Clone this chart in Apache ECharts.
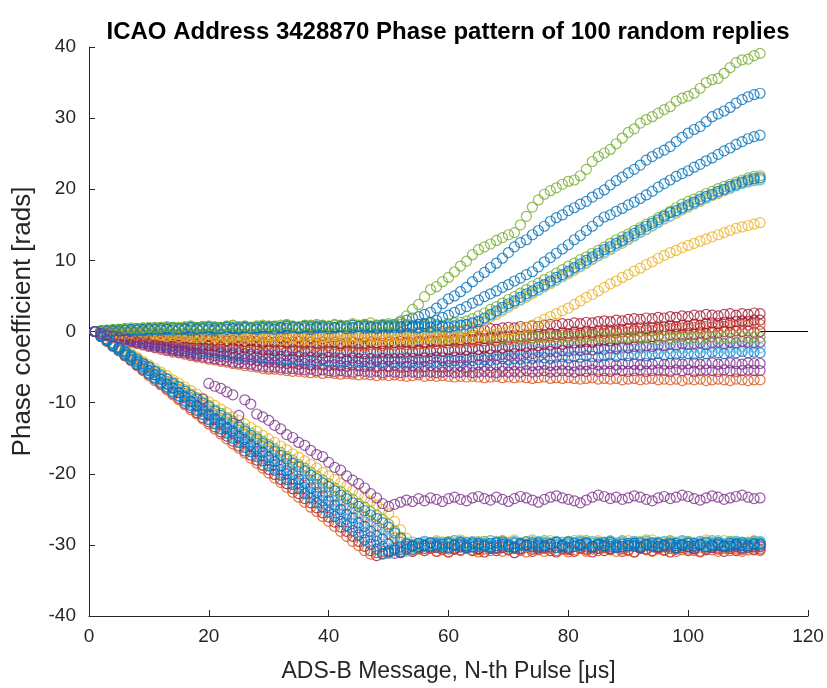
<!DOCTYPE html>
<html>
<head>
<meta charset="utf-8">
<script src="https://cdn.jsdelivr.net/npm/echarts@6/dist/echarts.min.js"></script>
<style>html,body{margin:0;padding:0;background:#fff}#c{width:827px;height:688px}</style>
</head>
<body>
<div id="c"></div>
<script>
// ---------- DATA (pulse index 1..112) ----------
const titleText = 'ICAO Address 3428870 Phase pattern of 100 random replies';
const xName = 'ADS-B Message, N-th Pulse [\u03BCs]';
const yName = 'Phase coefficient [rads]';
const xTicks = [0, 20, 40, 60, 80, 100, 120];
const yTicks = [-40, -30, -20, -10, 0, 10, 20, 30, 40];
const firstPulse = 1;
const zeroLineX = [112, 120];
const zeroLineY = [0, 0];

// near-zero group
const z8Orange = [0.0,-0.3,-0.6,-0.9,-1.1,-1.3,-1.5,-1.7,-1.9,-2.1,-2.3,-2.5,-2.7,-2.9,-3.0,-3.2,-3.4,-3.6,-3.7,-3.9,-4.0,-4.2,-4.3,-4.5,-4.6,-4.8,-4.9,-5.0,-5.2,-5.3,-5.3,-5.4,-5.5,-5.6,-5.6,-5.7,-5.8,-5.7,-5.9,-5.8,-5.9,-6.0,-5.9,-6.0,-6.1,-6.0,-6.1,-6.2,-6.1,-6.2,-6.1,-6.2,-6.3,-6.2,-6.1,-6.3,-6.2,-6.3,-6.2,-6.3,-6.4,-6.3,-6.4,-6.3,-6.4,-6.5,-6.4,-6.3,-6.5,-6.4,-6.5,-6.4,-6.5,-6.6,-6.5,-6.4,-6.6,-6.5,-6.6,-6.5,-6.6,-6.7,-6.6,-6.5,-6.7,-6.6,-6.7,-6.6,-6.8,-6.7,-6.6,-6.8,-6.7,-6.6,-6.8,-6.7,-6.8,-6.7,-6.9,-6.7,-6.8,-6.7,-6.9,-6.8,-6.7,-6.8,-6.9,-6.7,-6.8,-6.9,-6.8,-6.8];
const z7Purple = [0.0,-0.3,-0.6,-0.8,-1.0,-1.2,-1.4,-1.6,-1.8,-2.0,-2.2,-2.3,-2.5,-2.7,-2.9,-3.0,-3.2,-3.4,-3.5,-3.7,-3.8,-4.0,-4.1,-4.3,-4.4,-4.5,-4.6,-4.8,-4.9,-5.0,-5.0,-5.1,-5.2,-5.2,-5.3,-5.4,-5.3,-5.5,-5.4,-5.5,-5.6,-5.5,-5.6,-5.7,-5.5,-5.6,-5.7,-5.6,-5.8,-5.6,-5.7,-5.8,-5.6,-5.7,-5.8,-5.6,-5.7,-5.8,-5.7,-5.6,-5.8,-5.7,-5.6,-5.8,-5.7,-5.6,-5.7,-5.8,-5.6,-5.7,-5.6,-5.7,-5.5,-5.7,-5.6,-5.5,-5.7,-5.6,-5.5,-5.6,-5.7,-5.5,-5.6,-5.4,-5.6,-5.5,-5.6,-5.4,-5.5,-5.6,-5.5,-5.4,-5.6,-5.5,-5.4,-5.5,-5.6,-5.4,-5.5,-5.4,-5.6,-5.5,-5.4,-5.5,-5.6,-5.4,-5.5,-5.6,-5.5,-5.4,-5.5,-5.5];
const z6Purple = [0.0,-0.3,-0.5,-0.7,-0.9,-1.0,-1.2,-1.4,-1.6,-1.7,-1.9,-2.0,-2.2,-2.4,-2.5,-2.7,-2.8,-3.0,-3.1,-3.2,-3.4,-3.5,-3.6,-3.7,-3.9,-3.9,-4.0,-4.1,-4.2,-4.3,-4.3,-4.4,-4.5,-4.4,-4.6,-4.5,-4.7,-4.6,-4.7,-4.8,-4.7,-4.8,-4.9,-4.7,-4.8,-4.9,-4.8,-5.0,-4.8,-4.9,-4.8,-5.0,-4.9,-4.8,-5.0,-4.9,-4.8,-4.9,-5.0,-4.8,-4.9,-4.8,-5.0,-4.9,-4.7,-4.9,-4.8,-4.7,-4.9,-4.8,-4.7,-4.8,-4.6,-4.8,-4.7,-4.6,-4.8,-4.7,-4.6,-4.7,-4.8,-4.6,-4.7,-4.5,-4.7,-4.6,-4.5,-4.7,-4.6,-4.5,-4.6,-4.7,-4.5,-4.6,-4.4,-4.6,-4.5,-4.4,-4.6,-4.5,-4.4,-4.6,-4.5,-4.4,-4.6,-4.5,-4.4,-4.5,-4.6,-4.4,-4.5,-4.5];
const z5Blue = [0.0,-0.3,-0.4,-0.6,-0.8,-0.9,-1.1,-1.2,-1.4,-1.5,-1.7,-1.8,-2.0,-2.1,-2.2,-2.4,-2.5,-2.6,-2.8,-2.9,-3.0,-3.1,-3.2,-3.3,-3.4,-3.5,-3.5,-3.6,-3.7,-3.8,-3.8,-3.9,-4.0,-3.9,-4.1,-4.0,-4.2,-4.1,-4.0,-4.2,-4.1,-4.3,-4.2,-4.1,-4.3,-4.2,-4.4,-4.2,-4.3,-4.1,-4.3,-4.2,-4.4,-4.2,-4.3,-4.1,-4.2,-4.3,-4.1,-4.2,-4.1,-4.2,-4.0,-4.1,-3.9,-4.0,-4.1,-3.9,-3.8,-4.0,-3.8,-3.9,-3.7,-3.8,-3.6,-3.7,-3.8,-3.6,-3.5,-3.7,-3.5,-3.6,-3.4,-3.5,-3.6,-3.4,-3.3,-3.5,-3.3,-3.4,-3.2,-3.3,-3.4,-3.2,-3.1,-3.3,-3.1,-3.2,-3.0,-3.1,-3.2,-3.0,-3.1,-2.9,-3.0,-3.1,-2.9,-3.0,-2.8,-3.0,-2.9,-3.0];
const z10LightBlue = [0.0,-0.1,-0.3,-0.4,-0.5,-0.6,-0.7,-0.8,-0.9,-1.0,-1.1,-1.2,-1.2,-1.3,-1.4,-1.5,-1.5,-1.6,-1.7,-1.7,-1.8,-1.9,-1.9,-2.0,-2.0,-2.1,-2.1,-2.2,-2.1,-2.2,-2.3,-2.2,-2.3,-2.4,-2.3,-2.4,-2.3,-2.5,-2.4,-2.3,-2.5,-2.4,-2.6,-2.4,-2.5,-2.3,-2.5,-2.6,-2.4,-2.5,-2.6,-2.4,-2.5,-2.7,-2.5,-2.4,-2.6,-2.5,-2.7,-2.5,-2.4,-2.6,-2.5,-2.7,-2.6,-2.4,-2.5,-2.7,-2.6,-2.4,-2.6,-2.5,-2.4,-2.6,-2.5,-2.7,-2.5,-2.4,-2.6,-2.5,-2.3,-2.5,-2.4,-2.6,-2.5,-2.3,-2.4,-2.6,-2.4,-2.3,-2.5,-2.4,-2.2,-2.4,-2.5,-2.3,-2.4,-2.2,-2.4,-2.3,-2.2,-2.4,-2.3,-2.1,-2.3,-2.4,-2.2,-2.3,-2.1,-2.3,-2.2,-2.3];
const z4Purple = [0.0,-0.2,-0.4,-0.5,-0.7,-0.8,-1.0,-1.1,-1.2,-1.4,-1.5,-1.6,-1.8,-1.9,-2.0,-2.1,-2.3,-2.4,-2.4,-2.6,-2.7,-2.8,-2.8,-3.0,-3.0,-3.1,-3.2,-3.2,-3.3,-3.4,-3.4,-3.5,-3.4,-3.6,-3.5,-3.7,-3.6,-3.7,-3.8,-3.6,-3.7,-3.8,-3.9,-3.7,-3.8,-3.9,-3.8,-4.0,-3.8,-3.9,-3.8,-3.9,-3.7,-3.8,-3.9,-3.7,-3.8,-3.6,-3.7,-3.8,-3.6,-3.7,-3.5,-3.6,-3.4,-3.5,-3.3,-3.4,-3.2,-3.3,-3.1,-3.2,-3.0,-3.1,-2.9,-3.0,-2.8,-2.9,-2.7,-2.8,-2.6,-2.7,-2.5,-2.6,-2.4,-2.5,-2.3,-2.4,-2.2,-2.3,-2.1,-2.2,-2.0,-2.1,-1.9,-2.0,-1.8,-1.9,-1.7,-1.8,-1.7,-1.6,-1.8,-1.6,-1.5,-1.7,-1.5,-1.6,-1.4,-1.5,-1.6,-1.5];
const z3Red = [0.0,-0.2,-0.3,-0.4,-0.5,-0.6,-0.8,-0.8,-1.0,-1.0,-1.1,-1.2,-1.3,-1.5,-1.5,-1.6,-1.8,-1.8,-1.9,-2.0,-2.0,-2.2,-2.1,-2.3,-2.4,-2.3,-2.5,-2.4,-2.6,-2.6,-2.7,-2.6,-2.8,-2.7,-2.9,-2.8,-2.7,-2.9,-3.0,-2.8,-2.9,-3.0,-2.8,-3.0,-2.9,-3.1,-2.9,-3.0,-2.8,-3.0,-2.9,-3.0,-2.8,-2.9,-2.7,-2.9,-2.8,-2.7,-2.8,-2.6,-2.7,-2.5,-2.6,-2.4,-2.5,-2.3,-2.4,-2.2,-2.3,-2.1,-2.2,-2.0,-2.1,-1.9,-2.0,-1.8,-1.9,-1.7,-1.8,-1.6,-1.6,-1.5,-1.4,-1.5,-1.3,-1.2,-1.3,-1.1,-1.0,-1.1,-0.9,-0.8,-0.9,-0.7,-0.6,-0.7,-0.5,-0.4,-0.5,-0.3,-0.4,-0.2,-0.3,-0.1,-0.2,0.0,-0.1,0.1,0.0,0.1,-0.1,0.0];
const z2Orange = [0.0,-0.1,-0.2,-0.3,-0.4,-0.4,-0.5,-0.6,-0.6,-0.7,-0.8,-0.8,-0.9,-1.0,-1.0,-1.1,-1.2,-1.2,-1.3,-1.3,-1.4,-1.5,-1.4,-1.6,-1.5,-1.7,-1.6,-1.8,-1.7,-1.8,-1.9,-1.8,-1.7,-1.9,-2.0,-1.8,-1.9,-2.1,-1.9,-2.0,-1.8,-2.0,-1.9,-2.1,-1.9,-2.0,-1.8,-1.9,-2.0,-1.8,-1.9,-1.7,-1.8,-1.9,-1.7,-1.8,-1.6,-1.7,-1.5,-1.6,-1.4,-1.5,-1.3,-1.4,-1.2,-1.3,-1.1,-1.2,-1.0,-1.1,-0.9,-1.0,-0.8,-0.9,-0.7,-0.8,-0.6,-0.7,-0.5,-0.6,-0.4,-0.5,-0.3,-0.4,-0.2,-0.3,-0.1,-0.2,0.0,-0.1,0.1,0.0,0.2,0.1,0.3,0.2,0.4,0.3,0.5,0.4,0.6,0.5,0.7,0.6,0.8,0.7,0.9,0.8,1.0,0.9,1.1,1.0];
const z11Red = [0.0,-0.1,-0.2,-0.2,-0.3,-0.3,-0.4,-0.5,-0.5,-0.6,-0.6,-0.7,-0.7,-0.8,-0.9,-0.9,-1.0,-1.0,-1.1,-1.1,-1.2,-1.1,-1.3,-1.2,-1.3,-1.4,-1.3,-1.4,-1.5,-1.4,-1.5,-1.4,-1.6,-1.5,-1.4,-1.6,-1.5,-1.7,-1.5,-1.6,-1.5,-1.7,-1.6,-1.5,-1.7,-1.6,-1.5,-1.6,-1.7,-1.5,-1.6,-1.4,-1.5,-1.6,-1.4,-1.5,-1.3,-1.4,-1.2,-1.3,-1.1,-1.2,-1.0,-1.1,-0.9,-1.0,-0.8,-0.9,-0.7,-0.8,-0.6,-0.7,-0.5,-0.6,-0.4,-0.5,-0.3,-0.4,-0.2,-0.3,-0.1,-0.2,0.0,-0.1,0.1,0.0,0.2,0.1,0.3,0.4,0.3,0.5,0.4,0.6,0.5,0.7,0.8,0.7,0.9,0.8,1.0,0.9,1.1,1.2,1.1,1.3,1.2,1.4,1.5,1.4,1.6,1.6];
const z9Green = [0.0,0.0,-0.1,0.0,-0.1,-0.2,-0.1,-0.2,-0.1,-0.3,-0.2,-0.3,-0.2,-0.4,-0.3,-0.2,-0.4,-0.3,-0.5,-0.4,-0.3,-0.5,-0.4,-0.3,-0.5,-0.4,-0.6,-0.5,-0.4,-0.6,-0.5,-0.4,-0.6,-0.5,-0.7,-0.6,-0.5,-0.7,-0.6,-0.5,-0.7,-0.6,-0.5,-0.7,-0.6,-0.8,-0.6,-0.5,-0.7,-0.6,-0.5,-0.7,-0.6,-0.8,-0.7,-0.5,-0.7,-0.6,-0.8,-0.7,-0.6,-0.8,-0.7,-0.5,-0.7,-0.6,-0.8,-0.7,-0.9,-0.7,-0.6,-0.8,-0.7,-0.9,-0.8,-0.6,-0.8,-0.7,-0.9,-0.8,-0.7,-0.9,-0.8,-0.6,-0.8,-0.7,-0.9,-0.8,-1.0,-0.8,-0.7,-0.9,-0.8,-1.0,-0.8,-0.7,-0.9,-0.8,-0.7,-0.9,-0.8,-1.0,-0.8,-0.7,-0.9,-0.8,-1.0,-0.8,-0.7,-0.9,-0.8,-0.8];
const z1Red = [0.0,-0.1,0.0,-0.2,-0.1,-0.2,-0.3,-0.2,-0.4,-0.3,-0.4,-0.3,-0.5,-0.4,-0.6,-0.5,-0.4,-0.6,-0.5,-0.7,-0.6,-0.5,-0.7,-0.6,-0.8,-0.7,-0.6,-0.8,-0.7,-0.8,-0.7,-0.9,-0.8,-0.6,-0.8,-0.7,-0.9,-0.7,-0.6,-0.8,-0.7,-0.6,-0.8,-0.6,-0.5,-0.7,-0.6,-0.4,-0.6,-0.5,-0.4,-0.5,-0.3,-0.4,-0.2,-0.3,-0.1,-0.2,0.0,-0.1,0.1,0.0,0.2,0.1,0.3,0.2,0.4,0.3,0.5,0.6,0.5,0.7,0.6,0.8,0.7,0.9,1.0,0.9,1.1,1.0,1.2,1.1,1.3,1.2,1.4,1.5,1.4,1.6,1.5,1.7,1.8,1.7,1.9,1.8,2.0,1.9,2.1,2.0,2.2,2.1,2.3,2.2,2.4,2.3,2.2,2.4,2.5,2.3,2.5,2.4,2.6,2.5];

// rising group
const r5Yellow = [0.0,-0.1,-0.2,-0.2,-0.3,-0.4,-0.3,-0.5,-0.4,-0.6,-0.5,-0.6,-0.7,-0.6,-0.8,-0.7,-0.8,-0.9,-0.7,-0.9,-0.8,-1.0,-0.9,-0.8,-1.0,-1.1,-0.9,-1.0,-1.1,-0.9,-1.0,-1.2,-1.1,-1.0,-1.2,-1.1,-1.3,-1.1,-1.2,-1.0,-1.2,-1.3,-1.1,-1.2,-1.0,-1.2,-1.1,-1.3,-1.2,-1.1,-1.2,-1.0,-1.1,-1.2,-1.0,-1.1,-0.9,-1.0,-1.1,-0.9,-0.8,-0.9,-0.7,-0.8,-0.6,-0.5,-0.4,-0.3,-0.1,0.0,0.2,0.4,0.6,0.9,1.3,1.7,2.1,2.5,2.9,3.3,3.8,4.3,4.8,5.2,5.7,6.2,6.7,7.1,7.6,8.0,8.5,8.9,9.4,9.8,10.3,10.7,11.1,11.4,11.8,12.1,12.4,12.7,13.0,13.3,13.6,13.9,14.2,14.5,14.7,14.9,15.1,15.3];
const r4cYellow = [0.0,-0.1,0.0,-0.2,-0.1,-0.2,-0.3,-0.2,-0.3,-0.4,-0.3,-0.4,-0.5,-0.3,-0.4,-0.5,-0.4,-0.6,-0.5,-0.4,-0.6,-0.5,-0.7,-0.6,-0.5,-0.7,-0.6,-0.5,-0.7,-0.6,-0.7,-0.5,-0.6,-0.8,-0.6,-0.7,-0.5,-0.6,-0.8,-0.7,-0.6,-0.7,-0.8,-0.6,-0.7,-0.5,-0.6,-0.8,-0.7,-0.6,-0.5,-0.7,-0.6,-0.5,-0.4,-0.6,-0.5,-0.4,-0.3,-0.4,-0.2,0.0,0.3,0.6,1.0,1.5,2.0,2.4,2.9,3.4,3.9,4.4,4.8,5.3,5.8,6.3,6.7,7.2,7.7,8.1,8.6,9.1,9.6,10.1,10.6,11.0,11.5,12.0,12.4,12.9,13.4,13.9,14.3,14.8,15.3,15.8,16.2,16.6,17.1,17.5,17.9,18.3,18.7,19.1,19.4,19.8,20.1,20.5,20.8,21.1,21.3,21.4];
const r4bGreen = [0.0,0.1,0.2,0.2,0.3,0.4,0.3,0.4,0.5,0.4,0.5,0.6,0.5,0.4,0.6,0.5,0.7,0.6,0.5,0.7,0.6,0.5,0.7,0.8,0.6,0.7,0.5,0.8,0.7,0.6,0.8,0.7,0.9,0.7,0.6,0.8,0.9,0.7,0.8,0.6,0.9,0.8,0.7,0.9,0.8,1.0,0.8,0.9,0.7,0.9,0.8,1.0,0.9,0.8,1.0,0.9,1.1,1.0,0.9,1.1,1.2,1.3,1.5,1.8,2.2,2.6,3.1,3.5,4.0,4.5,4.9,5.4,5.9,6.4,6.8,7.3,7.7,8.2,8.7,9.2,9.6,10.1,10.5,11.0,11.4,11.9,12.4,12.9,13.3,13.7,14.2,14.6,15.1,15.5,16.0,16.4,16.9,17.4,17.9,18.3,18.6,19.0,19.4,19.7,20.1,20.4,20.7,21.0,21.3,21.6,21.8,21.9];
const r4dLightBlue = [0.0,0.1,0.0,0.1,0.2,0.1,0.2,0.3,0.2,0.3,0.2,0.4,0.3,0.2,0.4,0.3,0.5,0.4,0.3,0.5,0.4,0.3,0.5,0.4,0.6,0.4,0.5,0.3,0.5,0.6,0.4,0.6,0.5,0.4,0.6,0.5,0.7,0.5,0.4,0.6,0.5,0.7,0.6,0.4,0.6,0.7,0.5,0.6,0.8,0.6,0.5,0.7,0.6,0.8,0.6,0.5,0.7,0.6,0.8,0.7,0.6,0.8,0.9,1.1,1.5,1.8,2.2,2.7,3.1,3.6,4.1,4.5,5.0,5.5,5.9,6.4,6.9,7.3,7.8,8.3,8.8,9.2,9.7,10.2,10.7,11.2,11.6,12.1,12.6,13.0,13.5,14.0,14.4,14.9,15.4,15.9,16.3,16.8,17.2,17.6,18.0,18.4,18.8,19.2,19.5,19.9,20.2,20.5,20.8,21.0,21.2,21.3];
const r4aBlue = [0.0,0.0,0.1,0.0,0.1,0.2,0.1,0.2,0.1,0.2,0.3,0.2,0.3,0.2,0.3,0.4,0.2,0.3,0.4,0.3,0.2,0.4,0.3,0.4,0.3,0.5,0.4,0.3,0.5,0.4,0.3,0.5,0.4,0.6,0.4,0.5,0.3,0.5,0.6,0.4,0.5,0.6,0.4,0.5,0.7,0.5,0.6,0.4,0.6,0.5,0.6,0.5,0.7,0.6,0.5,0.7,0.6,0.8,0.7,0.6,0.8,0.9,1.0,1.2,1.4,1.9,2.4,2.9,3.4,3.9,4.3,4.8,5.3,5.7,6.2,6.6,7.1,7.6,8.0,8.5,9.0,9.5,10.0,10.5,11.0,11.5,11.9,12.4,12.8,13.3,13.8,14.3,14.8,15.2,15.7,16.2,16.7,17.0,17.4,17.8,18.2,18.6,19.0,19.3,19.7,20.0,20.4,20.7,21.0,21.3,21.5,21.6];
const r3Blue = [0.0,0.0,0.1,0.2,0.1,0.2,0.3,0.2,0.3,0.4,0.3,0.4,0.3,0.5,0.4,0.3,0.5,0.4,0.5,0.6,0.4,0.5,0.6,0.5,0.4,0.6,0.5,0.6,0.5,0.7,0.6,0.5,0.7,0.6,0.5,0.7,0.6,0.8,0.6,0.7,0.6,0.7,0.8,0.6,0.7,0.8,0.7,0.6,0.8,0.7,0.8,0.7,0.9,0.8,1.0,1.1,1.3,1.6,2.0,2.3,2.7,3.1,3.5,4.0,4.4,4.9,5.3,5.7,6.2,6.6,7.1,7.5,8.0,8.4,9.1,9.8,10.4,11.0,11.6,12.2,12.9,13.5,14.2,14.8,15.5,16.1,16.4,16.9,17.3,17.8,18.2,18.7,19.2,19.7,20.3,20.8,21.3,21.8,22.2,22.6,23.1,23.5,24.0,24.4,24.9,25.4,25.8,26.3,26.7,27.1,27.4,27.6];
const r2Blue = [0.0,0.1,0.1,0.2,0.3,0.2,0.3,0.4,0.3,0.4,0.5,0.4,0.5,0.6,0.4,0.5,0.6,0.5,0.7,0.6,0.5,0.6,0.7,0.5,0.6,0.7,0.6,0.5,0.7,0.6,0.7,0.6,0.8,0.7,0.6,0.8,0.7,0.6,0.8,0.7,0.6,0.8,0.7,0.9,0.7,0.8,0.6,0.8,0.9,0.8,1.0,1.3,1.6,1.9,2.1,2.4,2.7,3.3,3.9,4.6,5.0,5.6,6.2,7.0,7.7,8.3,9.0,9.6,10.3,11.1,11.9,12.5,12.9,13.6,14.2,14.8,15.5,16.0,16.4,17.0,17.4,17.9,18.3,18.9,19.4,19.9,20.6,21.2,21.7,22.3,22.8,23.4,24.1,24.6,25.1,25.5,26.0,26.7,27.3,27.9,28.4,28.8,29.5,30.2,30.6,31.0,31.5,32.1,32.6,33.0,33.3,33.5];
const r1Green = [0.0,0.1,0.2,0.3,0.3,0.4,0.5,0.4,0.5,0.6,0.5,0.6,0.7,0.6,0.5,0.7,0.8,0.6,0.7,0.8,0.7,0.6,0.8,0.9,0.7,0.8,0.6,0.7,0.9,0.8,0.7,0.9,1.0,0.8,0.7,0.9,0.8,1.0,0.9,0.8,1.0,0.9,0.8,1.1,0.9,1.0,1.2,0.9,1.0,1.1,1.0,1.5,2.2,3.1,3.8,4.9,5.9,6.3,7.0,7.6,8.4,9.2,9.9,10.8,11.5,11.9,12.3,12.8,13.2,13.6,13.9,15.0,16.2,17.5,18.5,19.3,19.8,20.2,20.7,21.1,21.3,21.9,22.8,23.9,24.6,25.1,25.6,26.4,27.2,28.0,28.5,29.3,29.8,30.2,30.7,31.2,31.6,32.4,32.8,33.1,33.5,34.2,35.0,35.4,35.6,36.3,37.1,37.8,38.2,38.3,38.8,39.1];

// descending group
const d3Red = [0.0,-0.7,-1.3,-2.0,-2.7,-3.4,-4.0,-4.7,-5.4,-6.0,-6.7,-7.4,-8.0,-8.7,-9.4,-10.1,-10.7,-11.4,-12.1,-12.7,-13.4,-14.1,-14.7,-15.4,-16.1,-16.8,-17.4,-18.1,-18.8,-19.4,-20.1,-20.8,-21.4,-22.1,-22.8,-23.5,-24.1,-24.8,-25.5,-26.1,-26.8,-27.5,-28.1,-28.8,-29.5,-30.2,-30.8,-31.5,-31.3,-31.0,-30.8,-31.1,-30.6,-30.9,-30.5,-30.8,-30.4,-30.9,-30.6,-31.0,-30.5,-30.7,-30.3,-30.8,-30.6,-31.0,-30.5,-30.8,-30.4,-30.7,-31.1,-30.6,-30.3,-30.9,-30.6,-30.4,-30.8,-31.0,-30.5,-30.7,-30.9,-30.4,-30.6,-31.0,-30.5,-30.8,-30.6,-30.3,-30.9,-30.7,-31.0,-30.5,-30.6,-30.8,-30.4,-30.7,-31.0,-30.6,-30.4,-30.8,-30.5,-30.9,-30.7,-30.3,-30.6,-30.9,-30.5,-30.8,-30.6,-30.4,-30.7,-30.6];
const d11Orange = [0.0,-0.7,-1.4,-2.1,-2.7,-3.4,-4.1,-4.8,-5.5,-6.2,-6.9,-7.5,-8.2,-8.9,-9.6,-10.3,-11.0,-11.6,-12.3,-13.0,-13.7,-14.4,-15.1,-15.8,-16.4,-17.1,-17.8,-18.5,-19.2,-19.9,-20.6,-21.2,-21.9,-22.6,-23.3,-24.0,-24.7,-25.3,-26.0,-26.7,-27.4,-28.1,-28.8,-29.5,-30.1,-30.8,-31.3,-31.1,-30.9,-31.2,-30.8,-31.0,-30.7,-30.9,-30.6,-30.8,-30.5,-30.9,-30.7,-31.0,-30.6,-30.8,-30.4,-30.7,-31.0,-30.6,-30.8,-30.5,-30.9,-30.7,-30.4,-30.8,-31.0,-30.6,-30.7,-30.9,-30.5,-30.8,-30.6,-31.0,-30.7,-30.5,-30.9,-30.6,-30.8,-30.4,-30.7,-30.9,-30.6,-30.8,-31.0,-30.5,-30.7,-30.9,-30.6,-30.8,-30.5,-30.9,-30.7,-30.6,-30.8,-31.0,-30.6,-30.7,-30.9,-30.5,-30.8,-30.6,-30.9,-30.7,-30.6,-30.8];
const d4Orange = [0.0,-0.6,-1.2,-1.7,-2.3,-2.9,-3.5,-4.1,-4.6,-5.2,-5.8,-6.4,-7.0,-7.5,-8.1,-8.7,-9.3,-9.9,-10.4,-11.0,-11.6,-12.2,-12.8,-13.3,-13.9,-14.5,-15.1,-15.7,-16.2,-16.8,-17.4,-18.0,-18.6,-19.1,-19.7,-20.3,-20.9,-21.5,-22.0,-22.6,-23.2,-23.8,-24.4,-24.9,-25.5,-26.1,-26.7,-27.3,-27.8,-28.4,-29.0,-29.6,-30.2,-30.7,-30.4,-30.2,-30.5,-30.1,-30.4,-30.6,-30.0,-30.3,-30.5,-30.2,-30.7,-30.3,-30.1,-30.5,-30.2,-30.6,-30.4,-30.0,-30.3,-30.6,-30.2,-30.5,-30.3,-30.1,-30.6,-30.4,-30.2,-30.5,-30.7,-30.3,-30.1,-30.4,-30.6,-30.2,-30.5,-30.3,-30.0,-30.4,-30.6,-30.2,-30.5,-30.3,-30.1,-30.5,-30.4,-30.2,-30.6,-30.3,-30.5,-30.1,-30.4,-30.2,-30.5,-30.3,-30.6,-30.4,-30.2,-30.3];
const d5Yellow = [0.0,-0.5,-1.0,-1.6,-2.1,-2.6,-3.1,-3.6,-4.2,-4.7,-5.2,-5.7,-6.2,-6.8,-7.3,-7.8,-8.3,-8.8,-9.4,-9.9,-10.4,-10.9,-11.4,-12.0,-12.5,-13.0,-13.5,-14.0,-14.6,-15.1,-15.6,-16.1,-16.6,-17.2,-17.7,-18.2,-18.7,-19.2,-19.8,-20.3,-20.8,-21.3,-21.8,-22.4,-22.9,-23.4,-23.9,-24.4,-25.0,-25.6,-26.7,-27.9,-29.1,-30.2,-30.0,-29.6,-29.9,-29.4,-29.7,-29.5,-29.8,-29.3,-29.6,-29.9,-29.5,-29.7,-29.4,-29.8,-29.5,-29.6,-29.3,-29.7,-29.9,-29.5,-29.6,-29.8,-29.4,-29.6,-29.9,-29.5,-29.7,-29.3,-29.6,-29.8,-29.4,-29.7,-29.5,-29.9,-29.6,-29.4,-29.8,-29.5,-29.7,-29.3,-29.6,-29.9,-29.5,-29.7,-29.4,-29.6,-29.8,-29.5,-29.3,-29.7,-29.6,-29.4,-29.8,-29.5,-29.7,-29.6,-29.4,-29.6];
const d6Green = [0.0,-0.5,-1.1,-1.6,-2.2,-2.7,-3.3,-3.8,-4.4,-4.9,-5.5,-6.0,-6.6,-7.1,-7.7,-8.2,-8.8,-9.3,-9.9,-10.4,-11.0,-11.5,-12.1,-12.6,-13.2,-13.7,-14.3,-14.8,-15.4,-15.9,-16.5,-17.0,-17.6,-18.1,-18.7,-19.2,-19.8,-20.3,-20.9,-21.4,-22.0,-22.5,-23.1,-23.6,-24.2,-24.7,-25.3,-25.8,-26.4,-27.1,-28.0,-28.9,-29.7,-30.1,-29.8,-29.5,-29.8,-30.0,-29.6,-29.9,-29.4,-29.7,-30.1,-29.6,-29.8,-29.5,-29.9,-29.7,-29.4,-30.0,-29.6,-29.8,-29.5,-29.9,-29.7,-29.4,-29.8,-29.6,-30.0,-29.5,-29.7,-29.9,-29.4,-29.8,-29.6,-29.9,-29.5,-29.7,-29.4,-29.8,-29.6,-30.0,-29.5,-29.7,-29.9,-29.6,-29.4,-29.8,-29.7,-29.5,-29.9,-29.6,-29.8,-29.4,-29.7,-29.9,-29.5,-29.7,-29.6,-29.8,-29.5,-29.7];
const d10Purple = [0.0,-0.5,-1.1,-1.7,-2.3,-2.9,-3.6,-4.2,-4.8,-5.5,-6.1,-6.7,-7.4,-8.0,-8.6,-9.3,-9.9,-10.5,-11.2,-11.8,-12.4,-13.1,-13.7,-14.3,-15.0,-15.6,-16.2,-16.9,-17.5,-18.1,-18.8,-19.4,-20.0,-20.7,-21.3,-21.9,-22.6,-23.2,-23.8,-24.5,-25.1,-25.7,-26.4,-27.0,-27.6,-28.3,-28.9,-29.5,-30.2,-30.8,-31.2,-30.7,-30.3,-30.0,-30.2,-30.5,-30.1,-30.4,-30.0,-30.3,-30.6,-30.1,-29.9,-30.3,-30.5,-30.0,-30.2,-30.4,-30.1,-29.9,-30.3,-30.5,-30.0,-30.2,-30.4,-30.1,-30.3,-30.0,-30.2,-30.5,-30.1,-29.9,-30.3,-30.4,-30.0,-30.2,-30.5,-30.1,-30.3,-30.0,-30.2,-30.4,-30.1,-29.9,-30.3,-30.2,-30.0,-30.4,-30.1,-30.3,-30.5,-30.0,-30.2,-30.4,-30.1,-30.3,-30.0,-30.2,-30.4,-30.1,-30.3,-30.2];
const d7Blue = [0.0,-0.6,-1.1,-1.7,-2.2,-2.8,-3.4,-3.9,-4.5,-5.0,-5.6,-6.2,-6.7,-7.3,-7.8,-8.4,-9.0,-9.5,-10.1,-10.6,-11.2,-11.8,-12.3,-12.9,-13.4,-14.0,-14.6,-15.1,-15.7,-16.2,-16.8,-17.4,-17.9,-18.5,-19.0,-19.6,-20.2,-20.7,-21.3,-21.8,-22.4,-23.0,-23.5,-24.1,-24.6,-25.2,-25.8,-26.3,-26.9,-27.5,-28.3,-29.1,-29.9,-30.6,-30.3,-29.9,-30.2,-29.8,-30.1,-29.6,-30.0,-30.3,-29.7,-29.9,-30.2,-29.8,-30.1,-29.7,-30.0,-30.3,-29.8,-30.1,-29.6,-29.9,-30.2,-29.8,-30.0,-29.7,-30.3,-29.9,-30.1,-29.6,-30.0,-30.2,-29.8,-30.1,-29.9,-30.3,-29.7,-30.0,-29.8,-30.2,-29.9,-30.1,-29.7,-30.0,-30.3,-29.8,-30.0,-29.7,-30.1,-29.9,-30.2,-29.8,-30.0,-29.9,-30.2,-29.8,-30.1,-29.9,-30.0,-29.8];
const d8LightBlue = [0.0,-0.6,-1.2,-1.8,-2.4,-3.0,-3.6,-4.2,-4.8,-5.4,-6.0,-6.5,-7.1,-7.7,-8.3,-8.9,-9.5,-10.1,-10.7,-11.3,-11.9,-12.5,-13.1,-13.7,-14.3,-14.9,-15.5,-16.1,-16.7,-17.3,-17.9,-18.4,-19.0,-19.6,-20.2,-20.8,-21.4,-22.0,-22.6,-23.2,-23.8,-24.4,-25.0,-25.6,-26.2,-26.8,-27.4,-28.0,-28.6,-29.2,-29.8,-30.5,-30.9,-30.4,-30.0,-29.7,-30.0,-29.6,-29.9,-30.2,-29.7,-29.5,-29.9,-30.1,-29.6,-29.8,-30.1,-29.5,-29.8,-30.0,-29.6,-29.9,-30.2,-29.7,-29.5,-29.9,-29.7,-30.0,-29.6,-29.8,-30.1,-29.5,-29.9,-29.7,-30.0,-29.6,-29.8,-30.1,-29.6,-29.9,-29.5,-29.8,-30.0,-29.7,-29.9,-29.6,-29.8,-30.0,-29.5,-29.7,-29.9,-29.6,-30.1,-29.8,-29.6,-29.9,-29.7,-29.5,-29.8,-30.0,-29.7,-29.8];
const d2LightBlue = [0.0,-0.6,-1.3,-1.9,-2.6,-3.2,-3.8,-4.5,-5.1,-5.8,-6.4,-7.0,-7.7,-8.3,-9.0,-9.6,-10.2,-10.9,-11.5,-12.2,-12.8,-13.4,-14.1,-14.7,-15.4,-16.0,-16.6,-17.3,-17.9,-18.6,-19.2,-19.8,-20.5,-21.1,-21.8,-22.4,-23.0,-23.7,-24.3,-25.0,-25.6,-26.2,-26.9,-27.5,-28.2,-28.8,-29.4,-30.1,-30.7,-31.2,-30.8,-30.3,-29.9,-29.6,-29.8,-29.5,-29.9,-29.6,-30.1,-29.7,-29.4,-29.8,-30.0,-29.5,-29.7,-29.9,-29.4,-29.6,-30.0,-29.7,-29.5,-29.9,-29.6,-29.3,-29.8,-29.6,-29.9,-29.5,-29.7,-30.0,-29.4,-29.6,-29.8,-29.5,-29.9,-29.7,-29.4,-29.8,-29.6,-29.9,-29.5,-29.7,-29.3,-29.8,-29.6,-29.5,-29.9,-29.6,-29.4,-29.8,-29.7,-29.5,-29.9,-29.6,-29.4,-29.8,-29.6,-29.5,-29.9,-29.7,-29.6,-29.5];
const d9Blue = [0.0,-0.7,-1.3,-2.0,-2.6,-3.3,-3.9,-4.6,-5.2,-5.9,-6.5,-7.2,-7.8,-8.5,-9.1,-9.8,-10.4,-11.1,-11.7,-12.4,-13.0,-13.7,-14.3,-15.0,-15.6,-16.3,-16.9,-17.6,-18.2,-18.9,-19.5,-20.2,-20.8,-21.5,-22.1,-22.8,-23.4,-24.1,-24.7,-25.4,-26.0,-26.7,-27.3,-28.0,-28.6,-29.3,-29.9,-30.6,-31.2,-31.0,-30.7,-30.3,-29.9,-30.2,-29.8,-30.1,-29.7,-30.0,-30.3,-29.8,-30.1,-29.9,-30.4,-29.7,-30.0,-30.2,-29.8,-30.1,-29.6,-30.0,-30.3,-29.9,-30.1,-29.7,-30.0,-30.2,-29.9,-29.6,-30.1,-30.3,-29.8,-30.0,-29.7,-30.2,-29.9,-30.1,-29.6,-30.0,-30.2,-29.8,-30.1,-29.7,-29.9,-30.3,-29.8,-30.0,-29.7,-30.1,-29.9,-30.2,-29.8,-30.0,-29.6,-30.1,-29.9,-30.2,-29.8,-30.0,-29.7,-30.1,-29.9,-29.9];
const d1Blue = [0.0,-0.6,-1.2,-1.9,-2.4,-3.1,-3.6,-4.3,-4.9,-5.5,-6.1,-6.7,-7.4,-7.9,-8.6,-9.1,-9.8,-10.4,-10.9,-11.6,-12.2,-12.8,-13.5,-14.0,-14.7,-15.2,-15.9,-16.5,-17.0,-17.7,-18.3,-18.9,-19.6,-20.1,-20.8,-21.3,-22.0,-22.6,-23.1,-23.8,-24.4,-25.0,-25.7,-26.2,-26.9,-27.4,-28.1,-28.7,-29.2,-29.9,-30.5,-31.0,-30.6,-30.2,-29.8,-30.1,-29.7,-30.2,-29.9,-30.4,-30.0,-29.6,-30.1,-30.3,-29.8,-30.0,-30.4,-29.7,-29.9,-30.2,-30.5,-29.8,-30.0,-30.3,-29.7,-30.1,-29.9,-30.4,-30.0,-29.6,-30.2,-30.1,-29.8,-30.3,-30.0,-29.7,-30.2,-30.4,-29.9,-30.1,-29.8,-30.3,-30.0,-29.7,-30.2,-30.0,-29.9,-30.4,-30.1,-29.8,-30.2,-29.9,-30.3,-30.0,-29.7,-30.1,-30.2,-29.9,-30.0,-30.3,-29.8,-30.0];

// wrapped outlier
const p1Purple = [0.0,-0.3,-0.5,-0.7,-0.9,-1.1,-1.3,-1.5,-1.6,-1.8,-2.0,-2.2,-2.3,-2.5,-2.7,-2.8,-3.0,-3.2,-9.5,-7.3,-7.7,-8.0,-8.5,-8.9,-11.8,-9.6,-10.2,-11.6,-12.0,-12.5,-13.2,-13.7,-14.5,-14.9,-15.6,-16.0,-16.7,-17.3,-17.6,-18.4,-19.1,-19.5,-20.3,-20.9,-21.4,-22.0,-22.8,-23.4,-24.2,-24.6,-24.3,-24.0,-23.7,-23.9,-23.5,-23.8,-23.4,-23.6,-23.9,-23.5,-23.3,-23.6,-23.8,-23.4,-23.2,-23.5,-23.7,-23.3,-23.6,-23.9,-23.5,-23.2,-23.4,-23.7,-24.0,-23.6,-23.3,-23.1,-23.4,-23.6,-23.8,-24.1,-23.7,-23.3,-23.0,-23.2,-23.5,-23.3,-23.6,-23.4,-23.1,-23.3,-23.6,-23.8,-23.4,-23.2,-23.5,-23.3,-23.0,-23.2,-23.5,-23.7,-23.4,-23.1,-23.3,-23.6,-23.4,-23.2,-23.0,-23.3,-23.5,-23.4];

// MATLAB default colour order
const C = {blue:'#0072BD', orange:'#D95319', yellow:'#EDB120', purple:'#7E2F8E', green:'#77AC30', lightBlue:'#4DBEEE', red:'#A2142F'};

const seriesDefs = [
  [z8Orange, C.orange], [z7Purple, C.purple], [z6Purple, C.purple], [z5Blue, C.blue],
  [z10LightBlue, C.lightBlue], [z4Purple, C.purple], [z3Red, C.red], [z2Orange, C.orange],
  [z11Red, C.red], [z9Green, C.green], [z1Red, C.red],
  [r5Yellow, C.yellow], [r4cYellow, C.yellow], [r4bGreen, C.green], [r4dLightBlue, C.lightBlue], [r4aBlue, C.blue],
  [r3Blue, C.blue], [r2Blue, C.blue], [r1Green, C.green],
  [d3Red, C.red], [d11Orange, C.orange], [d4Orange, C.orange], [d5Yellow, C.yellow], [d6Green, C.green],
  [d10Purple, C.purple], [d7Blue, C.blue], [d8LightBlue, C.lightBlue], [d2LightBlue, C.lightBlue],
  [d9Blue, C.blue], [d1Blue, C.blue], [p1Purple, C.purple]
];

const FONT = '"Liberation Sans", Arial, Helvetica, sans-serif';
const AX = '#262626';

const series = seriesDefs.map(([vals, col]) => ({
  type: 'scatter',
  symbol: 'circle',
  symbolSize: 10,
  data: vals.map((v, i) => [i + firstPulse, v]),
  itemStyle: { color: 'rgba(0,0,0,0)', borderColor: col, borderWidth: 1.2 },
  emphasis: { disabled: true },
  silent: true,
  z: 3
}));
series.unshift({
  type: 'line',
  data: zeroLineX.map((x, i) => [x, zeroLineY[i]]),
  symbol: 'none',
  lineStyle: { color: '#000', width: 1 },
  silent: true,
  z: 2
});

const chart = echarts.init(document.getElementById('c'), null, { renderer: 'canvas' });
chart.setOption({
  animation: false,
  backgroundColor: '#fff',
  graphic: [{
    type: 'text', x: 448, y: 32,
    style: { text: titleText, textAlign: 'center', textVerticalAlign: 'middle',
      fontFamily: FONT, fontSize: 24, fontWeight: 'bold', fill: '#000' }
  }],
  grid: { left: 89, right: 19, top: 47, bottom: 71, containLabel: false },
  xAxis: {
    type: 'value', min: xTicks[0], max: xTicks[xTicks.length - 1], interval: xTicks[1] - xTicks[0],
    name: xName, nameLocation: 'middle', nameGap: 44,
    nameTextStyle: { fontFamily: FONT, fontSize: 23, color: AX },
    axisLine: { onZero: false, lineStyle: { color: AX, width: 1 } },
    axisTick: { inside: true, length: 6, lineStyle: { color: AX } },
    axisLabel: { fontFamily: FONT, fontSize: 19, color: AX, margin: 11 },
    splitLine: { show: false }
  },
  yAxis: {
    type: 'value', min: yTicks[0], max: yTicks[yTicks.length - 1], interval: yTicks[1] - yTicks[0],
    name: yName, nameLocation: 'middle', nameGap: 53, nameRotate: 90,
    nameTextStyle: { fontFamily: FONT, fontSize: 26, color: AX, padding: [0, 0, 0, 20] },
    axisLine: { onZero: false, lineStyle: { color: AX, width: 1 } },
    axisTick: { inside: true, length: 6, lineStyle: { color: AX } },
    axisLabel: { fontFamily: FONT, fontSize: 19, color: AX, margin: 13 },
    splitLine: { show: false }
  },
  series: series
});
</script>
</body>
</html>
